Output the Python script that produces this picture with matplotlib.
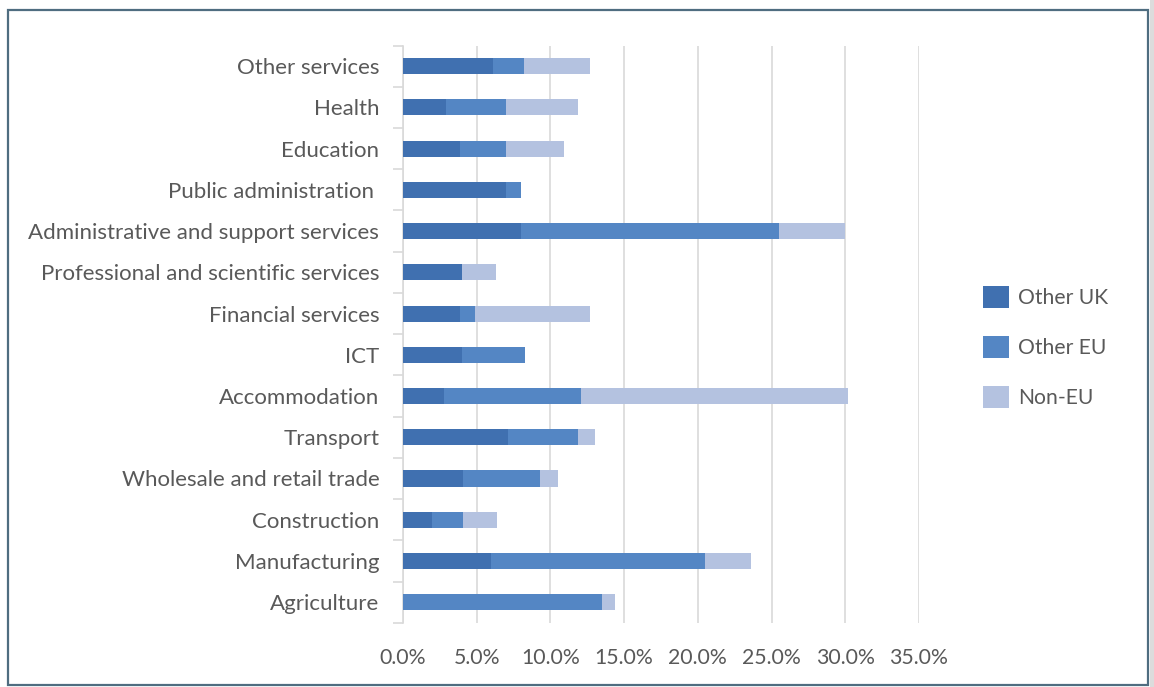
import numpy as np
import matplotlib.pyplot as plt
from matplotlib.patches import Patch, Rectangle

plt.rcParams['font.family'] = ['Lato', 'DejaVu Sans']

# sectors, listed from top to bottom
sectors = ['Other services', 'Health', 'Education', 'Public administration ',
           'Administrative and support services',
           'Professional and scientific services', 'Financial services', 'ICT',
           'Accommodation', 'Transport', 'Wholesale and retail trade',
           'Construction', 'Manufacturing', 'Agriculture']

# share of workers (%) by origin
other_uk = [6.1, 2.9, 3.9, 7.0, 8.0, 4.0, 3.9, 4.0, 2.8, 7.1, 4.1, 2.0, 6.0, 0.0]
other_eu = [2.1, 4.1, 3.1, 1.0, 17.5, 0.0, 1.0, 4.3, 9.3, 4.75, 5.2, 2.1, 14.5, 13.5]
non_eu = [4.5, 4.9, 3.95, 0.0, 4.5, 2.3, 7.8, 0.0, 18.1, 1.15, 1.2, 2.3, 3.1, 0.85]

series = ['Other UK', 'Other EU', 'Non-EU']
colors = ['#4070b0', '#5486c4', '#b4c2e0']
text_col = '#595959'

fig = plt.figure(figsize=(11.54, 6.87), dpi=100)
ax = fig.add_axes([0.3492, 0.0935, 0.4471, 0.8402])

y = np.arange(len(sectors))[::-1]
left = np.zeros(len(sectors))
for vals, c in zip([other_uk, other_eu, non_eu], colors):
    vals = np.array(vals)
    ax.barh(y, vals, left=left, height=0.39, color=c, zorder=3)
    left += vals

ax.set_xlim(0, 35)
ax.set_ylim(-0.5, len(sectors) - 0.5)
ax.set_xticks(np.arange(0, 36, 5))
ax.set_xticklabels(['%.1f%%' % v for v in np.arange(0, 36, 5)])
ax.set_yticks(y)
ax.set_yticklabels(sectors)
ax.set_yticks(np.arange(-0.5, len(sectors), 1), minor=True)

ax.grid(axis='x', color='#d9d9d9', linewidth=1.2, zorder=0)
for s in ['top', 'right', 'bottom']:
    ax.spines[s].set_visible(False)
ax.spines['left'].set_color('#d9d9d9')
ax.spines['left'].set_linewidth(1.2)

ax.tick_params(axis='x', length=0, pad=18, labelsize=15.3, labelcolor=text_col)
ax.tick_params(axis='y', which='major', length=0, pad=17, labelsize=16,
               labelcolor=text_col)
ax.tick_params(axis='y', which='minor', length=7, color='#d9d9d9', width=1.2)

handles = [Patch(facecolor=c, label=s) for c, s in zip(colors, series)]
leg = fig.legend(handles=handles, loc='center left',
                 bbox_to_anchor=(0.8445, 0.495), frameon=False,
                 fontsize=15.2, handlelength=1.23, handleheight=1.23,
                 labelspacing=1.31, handletextpad=0.45, borderaxespad=0)
for t in leg.get_texts():
    t.set_color(text_col)

# outer frame with a grey strip on the right
fig.patches.append(Rectangle((0.9965, 0), 0.0035, 1, transform=fig.transFigure,
                             facecolor='#dcdcdc', edgecolor='none'))
fig.patches.append(Rectangle((0.0065, 0.0035), 0.9885, 0.9825,
                             transform=fig.transFigure, facecolor='none',
                             edgecolor='#4f6d80', linewidth=1.6))

fig.savefig('out.png', dpi=100)
